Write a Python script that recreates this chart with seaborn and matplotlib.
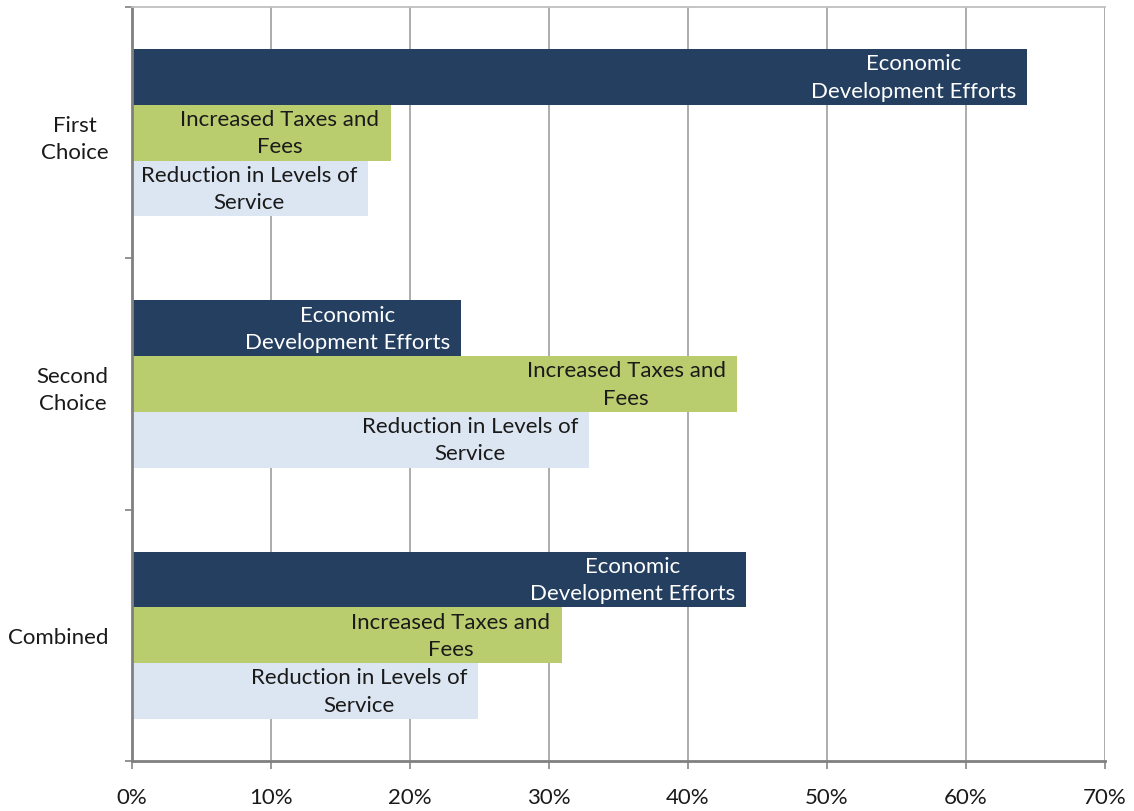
import matplotlib
matplotlib.use("Agg")
import matplotlib.pyplot as plt
import matplotlib.ticker as mticker
import seaborn as sns
import pandas as pd

# Survey results: share of respondents choosing each option
groups = ["First\nChoice", "Second\nChoice", "Combined"]
options = ["Economic\nDevelopment Efforts",
           "Increased Taxes and\nFees",
           "Reduction in Levels of\nService"]
economic_development = [64.4, 23.7, 44.2]
increased_taxes = [18.6, 43.5, 30.9]
reduced_service = [17.0, 32.9, 24.9]

colors = ["#243F60", "#B9CD6E", "#DCE6F2"]
label_colors = ["white", "#1a1a1a", "#1a1a1a"]
x_ticks = [0, 10, 20, 30, 40, 50, 60, 70]

rows = []
for opt, vals in zip(options, [economic_development, increased_taxes, reduced_service]):
    for g, v in zip(groups, vals):
        rows.append({"group": g, "option": opt, "value": v})
df = pd.DataFrame(rows)

sns.set_style("white")
plt.rcParams["font.family"] = ["Lato", "DejaVu Sans"]
plt.rcParams["text.color"] = "#1a1a1a"
plt.rcParams["xtick.color"] = "#1a1a1a"
plt.rcParams["ytick.color"] = "#1a1a1a"

FS = 16

fig = plt.figure(figsize=(11.34, 8.12), dpi=100)
ax = fig.add_axes([132 / 1134, 1 - 762 / 812, (1105 - 132) / 1134, (762 - 8) / 812])

sns.barplot(data=df, x="value", y="group", hue="option", orient="h",
            order=groups, hue_order=options, palette=colors,
            width=0.665, saturation=1, legend=False, ax=ax, zorder=2,
            linewidth=0)

# labels inside the bars, right-aligned at the bar end
for i, (cont, tc) in enumerate(zip(ax.containers, label_colors)):
    for patch in cont:
        w = patch.get_width()
        yc = patch.get_y() + patch.get_height() / 2
        ax.annotate(options[i], xy=(w, yc), xytext=(-8, 0), textcoords="offset points",
                    ha="right", va="center", multialignment="center",
                    fontsize=FS, color=tc, linespacing=1.45, zorder=3)

ax.set_xlim(0, 70)
ax.set_ylim(2.5, -0.5)
ax.set_xticks(x_ticks)
ax.xaxis.set_major_formatter(mticker.FuncFormatter(lambda v, p: f"{v:.0f}%"))
ax.grid(axis="x", color="#A6A6A6", linewidth=1.3, zorder=0)
ax.set_axisbelow(True)

# category ticks at group boundaries, labels at group centres
ax.set_yticks([-0.5, 0.5, 1.5, 2.5])
ax.set_yticklabels([])
ax.set_yticks([0, 1, 2], minor=True)
ax.set_yticklabels(groups, minor=True, fontsize=FS, multialignment="center",
                   linespacing=1.45)
ax.tick_params(axis="y", which="minor", length=0, pad=17)
ax.tick_params(axis="y", which="major", length=5, width=1.2, color="#808080",
               direction="out", left=True)
ax.tick_params(axis="x", length=6, width=1.2, color="#868686", direction="out",
               bottom=True, labelsize=FS, pad=13)

ax.set_xlabel("")
ax.set_ylabel("")
for side in ["left", "bottom"]:
    ax.spines[side].set_color("#808080")
    ax.spines[side].set_linewidth(2)
ax.spines["top"].set_color("#BFBFBF")
ax.spines["top"].set_linewidth(1.3)
ax.spines["right"].set_visible(False)

fig.savefig("out.png", dpi=100)
